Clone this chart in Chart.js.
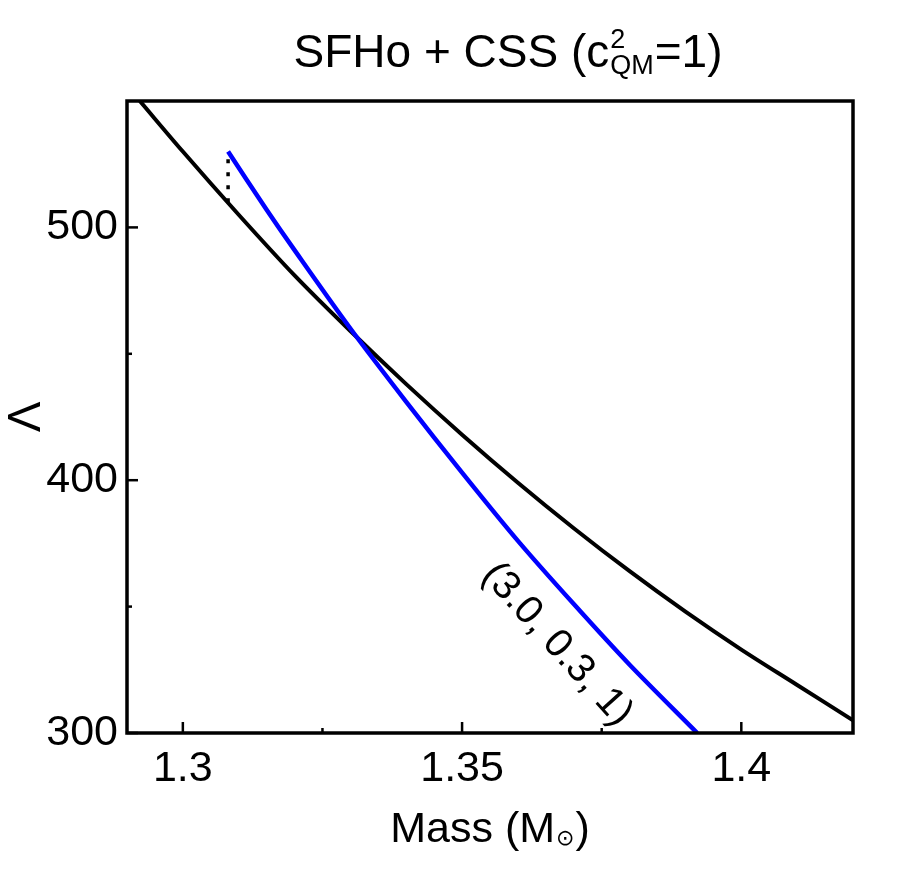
<!DOCTYPE html>
<html>
<head>
<meta charset="utf-8">
<script src="https://cdn.jsdelivr.net/npm/chart.js@4"></script>
<style>
  body { margin: 0; background: #fff; }
  #wrap { width: 900px; height: 872px; position: relative; }
</style>
</head>
<body>
<div id="wrap"><canvas id="chart"></canvas></div>
<script>
// SFHo (black) curve
const massSFHo = [1.2923, 1.30, 1.31, 1.32, 1.33, 1.34, 1.35, 1.36, 1.37, 1.38, 1.39, 1.40, 1.41, 1.42];
const lambdaSFHo = [550, 530, 505, 481, 459, 438, 418, 399, 381, 364, 348, 333, 319, 305];

// CSS branch (3.0, 0.3, 1), blue
const massCSS = [1.3081, 1.315, 1.32, 1.33, 1.34, 1.35, 1.36, 1.37, 1.38, 1.3921];
const lambdaCSS = [530, 507, 491, 460, 431, 403, 376, 351, 327, 300];

// dotted jump at the transition mass
const massJump = [1.3081, 1.3081];
const lambdaJump = [527, 510];

const xTicks = [1.3, 1.325, 1.35, 1.375, 1.4];
const xTickLabels = ['1.3', '', '1.35', '', '1.4'];
const yTicks = [300, 350, 400, 450, 500];
const yTickLabels = ['300', '', '400', '', '500'];

const curveLabel = '(3.0, 0.3, 1)';
const curveLabelAt = { mass: 1.367, lambda: 335 };

const FONT = '"Liberation Sans", Arial, Helvetica, sans-serif';

function toPoints(xs, ys) {
    return xs.map((x, i) => ({ x: x, y: ys[i] }));
}

const framePlugin = {
    id: 'frame',
    afterDraw(chart) {
        const ctx = chart.ctx;
        const a = chart.chartArea;
        const xs = chart.scales.x, ys = chart.scales.y;
        ctx.save();
        ctx.strokeStyle = '#000';
        ctx.lineWidth = 3.5;
        ctx.strokeRect(a.left, a.top, a.right - a.left, a.bottom - a.top);

        // inward ticks
        ctx.lineWidth = 2.5;
        xTicks.forEach((v, i) => {
            const px = xs.getPixelForValue(v);
            const len = xTickLabels[i] ? 11 : 5;
            ctx.beginPath();
            ctx.moveTo(px, a.bottom);
            ctx.lineTo(px, a.bottom - len);
            ctx.stroke();
        });
        yTicks.forEach((v, i) => {
            const py = ys.getPixelForValue(v);
            const len = yTickLabels[i] ? 11 : 5;
            ctx.beginPath();
            ctx.moveTo(a.left, py);
            ctx.lineTo(a.left + len, py);
            ctx.stroke();
        });

        ctx.fillStyle = '#000';
        ctx.textBaseline = 'alphabetic';

        // title: SFHo + CSS (c^2_QM=1)
        const t1 = 'SFHo + CSS (c', t3 = '=1)';
        ctx.font = '46px ' + FONT;
        const w1 = ctx.measureText(t1).width;
        const w3 = ctx.measureText(t3).width;
        ctx.font = '27px ' + FONT;
        const wSup = ctx.measureText('2').width;
        const wSub = ctx.measureText('QM').width;
        const wMid = Math.max(wSup, wSub) + 2;
        let x0 = 508 - (w1 + wMid + w3) / 2;
        ctx.font = '46px ' + FONT;
        ctx.textAlign = 'left';
        ctx.fillText(t1, x0, 67);
        ctx.font = '27px ' + FONT;
        ctx.fillText('2', x0 + w1 + 1, 48);
        ctx.fillText('QM', x0 + w1 + 1, 74);
        ctx.font = '46px ' + FONT;
        ctx.fillText(t3, x0 + w1 + wMid, 67);

        // x axis title: Mass (M_sun)
        ctx.font = '43px ' + FONT;
        const m1 = 'Mass (M', m3 = ')';
        const wm1 = ctx.measureText(m1).width;
        const wm3 = ctx.measureText(m3).width;
        ctx.font = '22px "DejaVu Sans", sans-serif';
        const wSun = ctx.measureText('\u2299').width;
        let mx = (a.left + a.right) / 2 - (wm1 + wSun + 2 + wm3) / 2;
        ctx.font = '43px ' + FONT;
        ctx.fillText(m1, mx, 842);
        ctx.font = '22px "DejaVu Sans", sans-serif';
        ctx.fillText('\u2299', mx + wm1 + 1, 845);
        ctx.font = '43px ' + FONT;
        ctx.fillText(m3, mx + wm1 + wSun + 2, 842);

        // y axis title: Lambda, rotated
        ctx.save();
        ctx.translate(27, (a.top + a.bottom) / 2);
        ctx.rotate(-Math.PI / 2);
        ctx.font = '46px ' + FONT;
        ctx.textAlign = 'center';
        ctx.textBaseline = 'middle';
        ctx.fillText('\u039B', 0, 0);
        ctx.restore();

        // curve label along the blue line
        ctx.save();
        ctx.translate(xs.getPixelForValue(curveLabelAt.mass), ys.getPixelForValue(curveLabelAt.lambda));
        ctx.rotate(48 * Math.PI / 180);
        ctx.font = '40px ' + FONT;
        ctx.textAlign = 'center';
        ctx.textBaseline = 'middle';
        ctx.fillText(curveLabel, 0, 0);
        ctx.restore();

        ctx.restore();
    }
};

new Chart(document.getElementById('chart'), {
    type: 'line',
    data: {
        datasets: [
            {
                label: 'CSS (3.0, 0.3, 1)',
                data: toPoints(massCSS, lambdaCSS),
                borderColor: '#0000ff',
                borderWidth: 4.5,
                pointRadius: 0,
                tension: 0.3,
                order: 0
            },
            {
                label: 'SFHo',
                data: toPoints(massSFHo, lambdaSFHo),
                borderColor: '#000000',
                borderWidth: 4,
                pointRadius: 0,
                cubicInterpolationMode: 'monotone',
                order: 1
            },
            {
                label: 'jump',
                data: toPoints(massJump, lambdaJump),
                borderColor: '#000000',
                borderWidth: 3.5,
                borderDash: [4, 9],
                pointRadius: 0,
                order: 2
            }
        ]
    },
    options: {
        responsive: true,
        maintainAspectRatio: false,
        animation: false,
        layout: { padding: { top: 101, right: 47, left: 0, bottom: 0 } },
        scales: {
            x: {
                type: 'linear',
                min: 1.29,
                max: 1.42,
                afterBuildTicks: s => { s.ticks = xTicks.map(v => ({ value: v })); },
                afterFit: s => { s.height = 139; },
                grid: { display: false, drawTicks: false },
                border: { display: false },
                ticks: {
                    autoSkip: false,
                    maxRotation: 0,
                    padding: 10,
                    color: '#000',
                    font: { family: FONT, size: 43 },
                    callback: (v, i) => xTickLabels[i]
                }
            },
            y: {
                min: 300,
                max: 550,
                afterBuildTicks: s => { s.ticks = yTicks.map(v => ({ value: v })); },
                afterFit: s => { s.width = 127; },
                grid: { display: false, drawTicks: false },
                border: { display: false },
                ticks: {
                    autoSkip: false,
                    padding: 9,
                    color: '#000',
                    font: { family: FONT, size: 43 },
                    callback: (v, i) => yTickLabels[i]
                }
            }
        },
        plugins: {
            legend: { display: false },
            tooltip: { enabled: false }
        }
    },
    plugins: [framePlugin]
});
</script>
</body>
</html>
